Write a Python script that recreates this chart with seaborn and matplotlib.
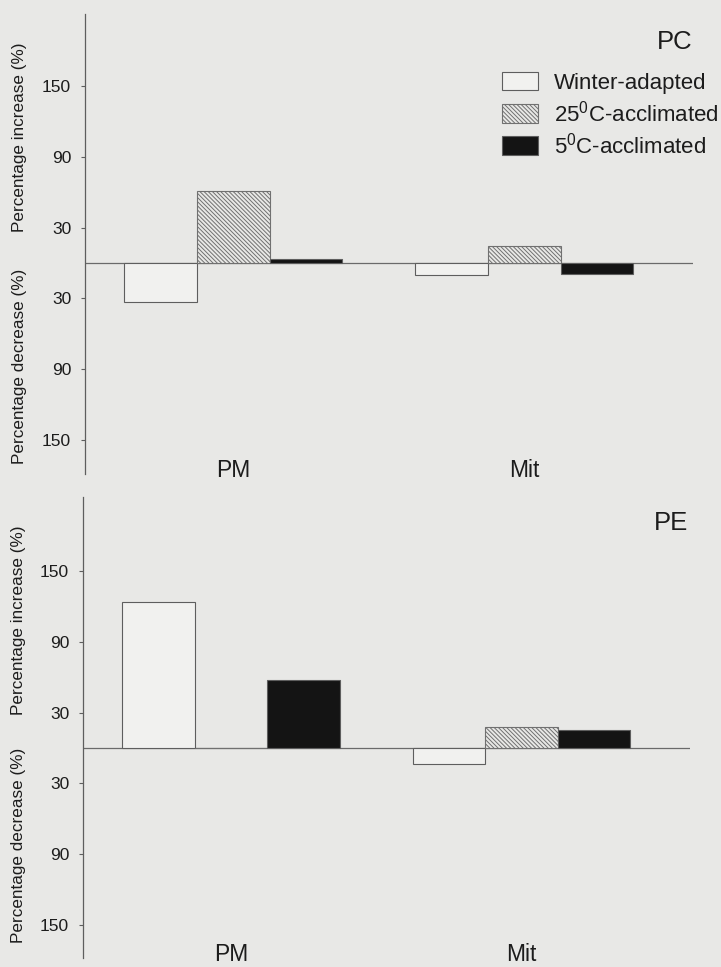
import matplotlib
matplotlib.use("Agg")
import matplotlib.pyplot as plt
from matplotlib.patches import Patch
import pandas as pd
import seaborn as sns

# ---- data -------------------------------------------------------------
fractions = ["PM", "Mit"]
groups = ["Winter-adapted", "25C-acclimated", "5C-acclimated"]
legend_labels = ["Winter-adapted",
                 r"25$^{\mathregular{0}}$C-acclimated",
                 r"5$^{\mathregular{0}}$C-acclimated"]

# percentage change relative to control (negative = decrease)
pc_winter = [-33, -10]
pc_25c = [61, 14]
pc_5c = [3, -9]

pe_winter = [124, -14]
pe_25c = [0, 17.5]
pe_5c = [58, 15]

tick_values = [-150, -90, -30, 30, 90, 150]
tick_labels = ["150", "90", "30", "30", "90", "150"]

panels = [
    ("PC", [pc_winter, pc_25c, pc_5c]),
    ("PE", [pe_winter, pe_25c, pe_5c]),
]

# ---- style ------------------------------------------------------------
BG = "#e8e8e6"
INK = "#1c1c1c"
EDGE = "#5e5e5e"
fills = ["#f1f1ef", BG, "#141414"]
hatches = [None, "\\" * 8, None]

sns.set_theme(style="white")
plt.rcParams["font.family"] = ["Liberation Sans", "DejaVu Sans"]
plt.rcParams["mathtext.fontset"] = "custom"
plt.rcParams["mathtext.rm"] = "Liberation Sans"
plt.rcParams["hatch.linewidth"] = 0.7

W, H = 721, 967
fig = plt.figure(figsize=(W / 100, H / 100), dpi=100, facecolor=BG)


def px_axes(left, top, right, bottom):
    return fig.add_axes([left / W, 1 - bottom / H, (right - left) / W, (bottom - top) / H])


axes_boxes = [(85, 14, 693, 474), (83, 497, 690, 958)]
ylims = [(-178.8, 211), (-178, 212.7)]
ylabel_pos = [(20, 137, 366), (19, 620, 845)]
title_pos = [(675, 42), (671, 523)]

for i, ((name, series), box, ylim) in enumerate(zip(panels, axes_boxes, ylims)):
    ax = px_axes(*box)
    ax.set_facecolor("none")

    df = pd.DataFrame({
        "fraction": fractions * len(groups),
        "group": [g for g in groups for _ in fractions],
        "change": [v for s in series for v in s],
    })
    sns.barplot(data=df, x="fraction", y="change", hue="group",
                order=fractions, hue_order=groups,
                palette=dict(zip(groups, fills)), width=0.75,
                saturation=1, errorbar=None, legend=False, ax=ax, zorder=3)

    for cont, hatch in zip(ax.containers, hatches):
        for bar in cont:
            bar.set_linewidth(0.8)
            if hatch:
                bar.set_edgecolor("#707070")
                bar.set_hatch(hatch)
            else:
                bar.set_edgecolor(EDGE)

    ax.axhline(0, color="#6a6a6a", lw=0.9, zorder=2)

    ax.set_xlim(-0.51, 1.58)
    ax.set_ylim(*ylim)
    ax.set_yticks(tick_values)
    ax.set_yticklabels(tick_labels)
    ax.set_xlabel("")
    ax.set_ylabel("")

    for side in ["top", "right", "bottom"]:
        ax.spines[side].set_visible(False)
    ax.spines["left"].set_color(EDGE)
    ax.spines["left"].set_linewidth(0.9)

    ax.tick_params(axis="y", left=True, length=3, width=0.8, color=EDGE,
                   labelsize=12.5, labelcolor=INK, pad=7)
    ax.tick_params(axis="x", bottom=False, length=0, labelsize=16.5,
                   labelcolor=INK, pad=-11)

    lx, ly_inc, ly_dec = ylabel_pos[i]
    fig.text(lx / W, 1 - ly_inc / H, "Percentage increase (%)", rotation=90,
             ha="center", va="center", fontsize=12.3, color=INK)
    fig.text(lx / W, 1 - ly_dec / H, "Percentage decrease (%)", rotation=90,
             ha="center", va="center", fontsize=12.3, color=INK)

    tx, ty = title_pos[i]
    fig.text(tx / W, 1 - ty / H, name, ha="center", va="center",
             fontsize=18.5, color=INK)

    if i == 0:
        handles = [Patch(facecolor=f, edgecolor="#707070" if h else EDGE,
                         linewidth=0.8, hatch=h)
                   for f, h in zip(fills, hatches)]
        ax.legend(handles, legend_labels, loc="upper left",
                  bbox_to_anchor=(502 / W, 1 - 72 / H),
                  bbox_transform=fig.transFigure, frameon=False,
                  fontsize=16, labelcolor=INK, handlelength=1.6,
                  handleheight=0.9, handletextpad=0.75, labelspacing=0.28,
                  borderpad=0, borderaxespad=0)

fig.savefig("out.png", dpi=100, facecolor=BG)
